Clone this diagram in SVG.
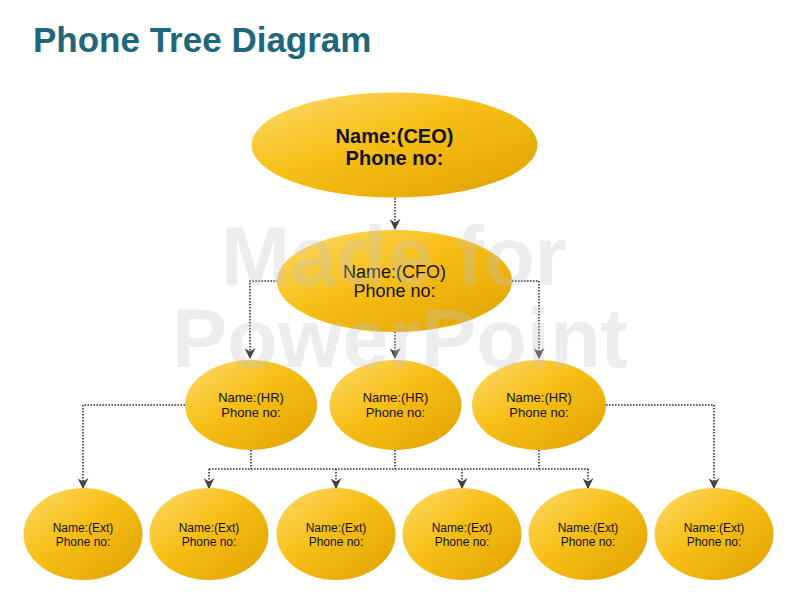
<svg xmlns="http://www.w3.org/2000/svg" width="800" height="600" viewBox="0 0 800 600">
<defs>
<linearGradient id="gold" x1="0" y1="0" x2="1" y2="1">
<stop offset="0" stop-color="#FDDA6A"/>
<stop offset="0.45" stop-color="#F7BF16"/>
<stop offset="1" stop-color="#E0A000"/>
</linearGradient>
<marker id="arr" viewBox="0 0 10 10" refX="9" refY="5" markerWidth="11" markerHeight="11" markerUnits="userSpaceOnUse" orient="auto">
<path d="M0,0 L10,5 L0,10 L3,5 z" fill="#444"/>
</marker>
<style>
.node ellipse{fill:url(#gold);}
.t{font-family:"Liberation Sans",Arial,sans-serif;fill:#111;text-anchor:middle;}
.conn path{fill:none;stroke:#333;stroke-width:1.6;stroke-dasharray:1.6 1.4;}
.wm{font-family:"Liberation Sans",Arial,sans-serif;font-weight:bold;font-size:83px;fill:#c4c4c4;opacity:0.3;text-anchor:middle;}
</style>
</defs>
<rect width="800" height="600" fill="#fff"/>
<text x="33" y="52" font-family="'Liberation Sans',Arial,sans-serif" font-weight="bold" font-size="35" fill="#21677B">Phone Tree Diagram</text>

<g class="conn">
<path d="M395,198 V229" marker-end="url(#arr)"/>
<path d="M278,281 H250 V358" marker-end="url(#arr)"/>
<path d="M395,332 V358" marker-end="url(#arr)"/>
<path d="M512,281 H539 V358" marker-end="url(#arr)"/>
<path d="M185,405 H83 V488" marker-end="url(#arr)"/>
<path d="M606,405 H714 V488" marker-end="url(#arr)"/>
<path d="M251,450 V469"/>
<path d="M395,450 V469"/>
<path d="M539,450 V469"/>
<path d="M209,469 H588"/>
<path d="M209,469 V488" marker-end="url(#arr)"/>
<path d="M336,469 V488" marker-end="url(#arr)"/>
<path d="M462,469 V488" marker-end="url(#arr)"/>
<path d="M588,469 V488" marker-end="url(#arr)"/>
</g>

<g id="ceo" class="node">
<ellipse cx="394.5" cy="145" rx="143" ry="52.5"/>
<text class="t" x="394.5" y="143" font-size="20" font-weight="bold">Name:(CEO)</text>
<text class="t" x="394.5" y="164.5" font-size="20" font-weight="bold">Phone no:</text>
</g>
<g id="cfo" class="node">
<ellipse cx="394.5" cy="281" rx="117.5" ry="51"/>
<text class="t" x="394.5" y="278" font-size="18">Name:(CFO)</text>
<text class="t" x="394.5" y="297" font-size="18">Phone no:</text>
</g>
<g id="hr1" class="node">
<ellipse cx="251" cy="405" rx="66" ry="45"/>
<text class="t" x="251" y="401.5" font-size="13">Name:(HR)</text>
<text class="t" x="251" y="417" font-size="13">Phone no:</text>
</g>
<g id="hr2" class="node">
<ellipse cx="395.5" cy="405" rx="66" ry="45"/>
<text class="t" x="395.5" y="401.5" font-size="13">Name:(HR)</text>
<text class="t" x="395.5" y="417" font-size="13">Phone no:</text>
</g>
<g id="hr3" class="node">
<ellipse cx="539" cy="405" rx="67" ry="45"/>
<text class="t" x="539" y="401.5" font-size="13">Name:(HR)</text>
<text class="t" x="539" y="417" font-size="13">Phone no:</text>
</g>
<g id="ext1" class="node">
<ellipse cx="83" cy="534" rx="59.5" ry="46"/>
<text class="t" x="83" y="532" font-size="12">Name:(Ext)</text>
<text class="t" x="83" y="546" font-size="12">Phone no:</text>
</g>
<g id="ext2" class="node">
<ellipse cx="209" cy="534" rx="59.5" ry="46"/>
<text class="t" x="209" y="532" font-size="12">Name:(Ext)</text>
<text class="t" x="209" y="546" font-size="12">Phone no:</text>
</g>
<g id="ext3" class="node">
<ellipse cx="336" cy="534" rx="59.5" ry="46"/>
<text class="t" x="336" y="532" font-size="12">Name:(Ext)</text>
<text class="t" x="336" y="546" font-size="12">Phone no:</text>
</g>
<g id="ext4" class="node">
<ellipse cx="462" cy="534" rx="59.5" ry="46"/>
<text class="t" x="462" y="532" font-size="12">Name:(Ext)</text>
<text class="t" x="462" y="546" font-size="12">Phone no:</text>
</g>
<g id="ext5" class="node">
<ellipse cx="588" cy="534" rx="59.5" ry="46"/>
<text class="t" x="588" y="532" font-size="12">Name:(Ext)</text>
<text class="t" x="588" y="546" font-size="12">Phone no:</text>
</g>
<g id="ext6" class="node">
<ellipse cx="714" cy="534" rx="59.5" ry="46"/>
<text class="t" x="714" y="532" font-size="12">Name:(Ext)</text>
<text class="t" x="714" y="546" font-size="12">Phone no:</text>
</g>

<g id="watermark">
<text class="wm" x="394" y="285">Made for</text>
<text class="wm" x="400" y="367">PowerPoint</text>
</g>
</svg>
